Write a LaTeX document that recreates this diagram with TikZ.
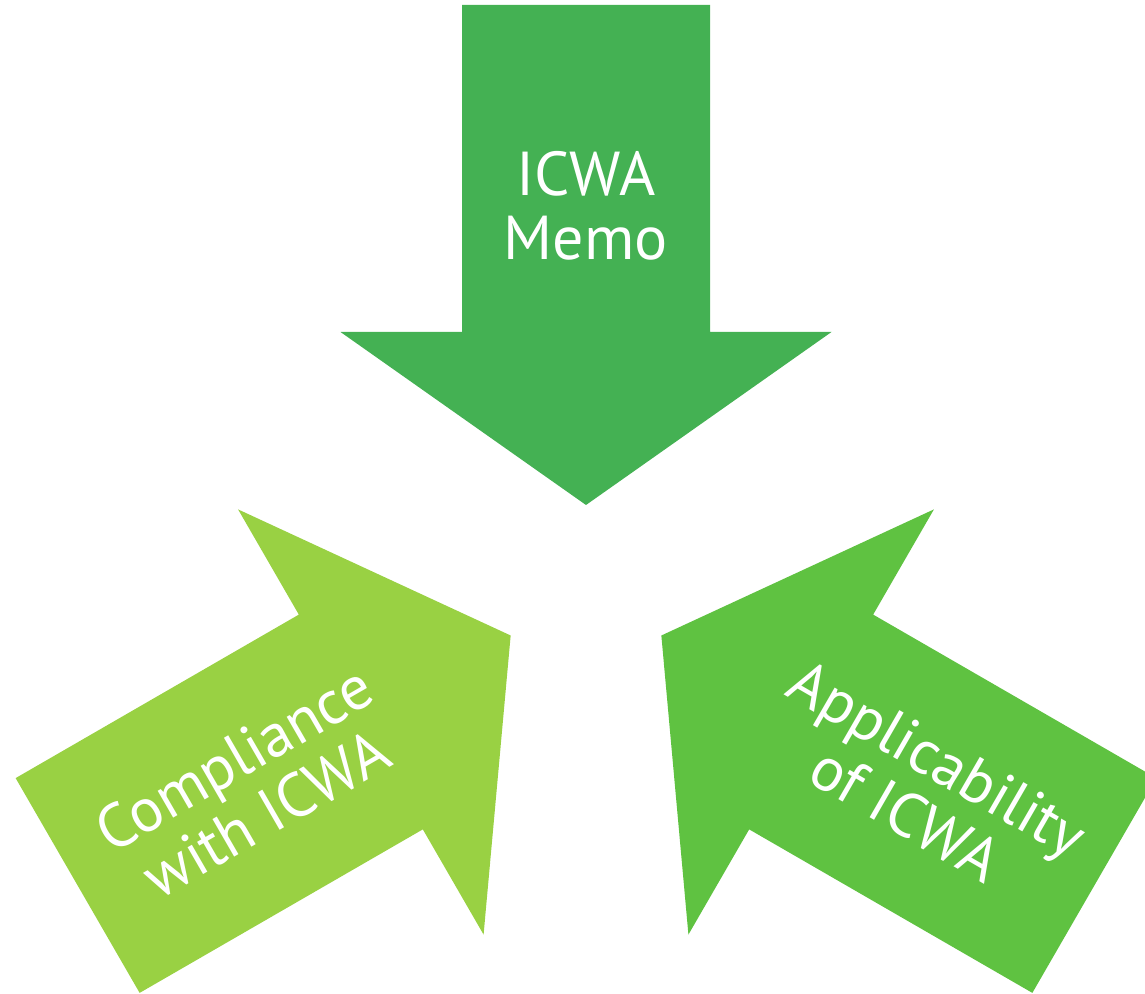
\documentclass[tikz,border=0pt]{standalone}
\usepackage{fontspec}
\setmainfont{PT Sans}
\definecolor{topgreen}{HTML}{44B153}
\definecolor{leftgreen}{HTML}{99D143}
\definecolor{rightgreen}{HTML}{5FC241}
\begin{document}
\begin{tikzpicture}[x=1bp,y=1bp,
  label/.style={text=white,align=center,inner sep=0pt,font=\fontsize{62bp}{64bp}\selectfont}]
\useasboundingbox (0,0) rectangle (1145,994);
\clip (0,0) rectangle (1145,994);
\coordinate (C) at (586,402);
% top arrow
\fill[topgreen] (462,989) -- (710,989) -- (710,662) -- (831.5,662) -- (586,489) -- (340.5,662) -- (462,662) -- cycle;
\node[label] (memo) at (586,788) {ICWA\\Memo};
% left arrow
\begin{scope}[rotate around={120:(C)}]
\fill[leftgreen] (462,989) -- (710,989) -- (710,662) -- (831.5,662) -- (586,489) -- (340.5,662) -- (462,662) -- cycle;
\node[label,rotate=30] (comp) at (586,790) {Compliance\\with ICWA};
\end{scope}
% right arrow
\begin{scope}[rotate around={-120:(C)}]
\fill[rightgreen] (462,989) -- (710,989) -- (710,662) -- (831.5,662) -- (586,489) -- (340.5,662) -- (462,662) -- cycle;
\node[label,rotate=-30] (appl) at (586,790) {Applicability\\of ICWA};
\end{scope}
\end{tikzpicture}
\end{document}
